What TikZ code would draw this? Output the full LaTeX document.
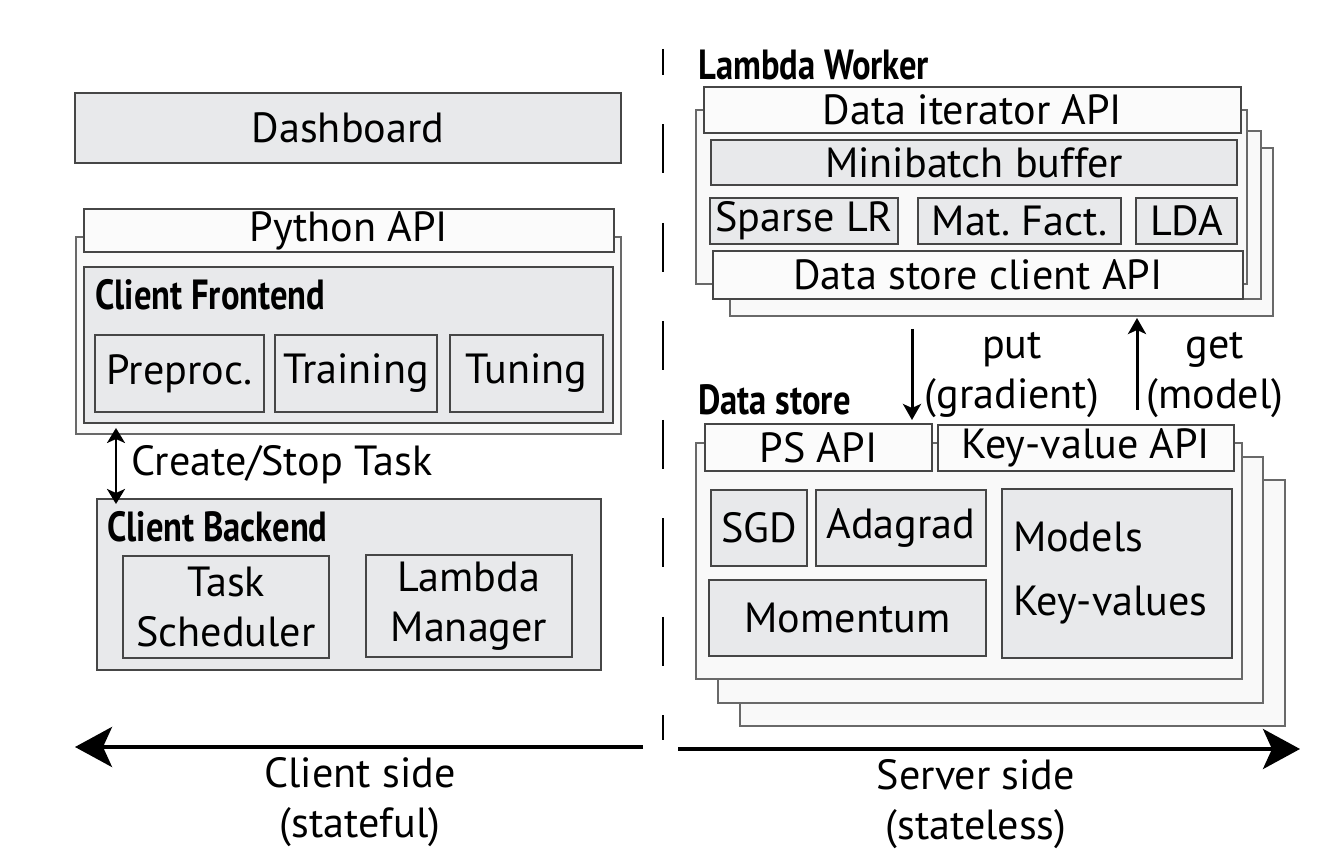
\documentclass[tikz,border=0pt]{standalone}
\usepackage{fontspec}
\setmainfont{PT Sans}
\newfontfamily\headfont{PT Sans}[FakeStretch=0.82]
\usepackage{tikz}
\usetikzlibrary{arrows.meta,positioning,calc}
\definecolor{boxgray}{RGB}{232,233,235}
\definecolor{framegray}{RGB}{249,249,249}
\definecolor{apiwhite}{RGB}{251,251,251}
\definecolor{edgegray}{RGB}{70,70,70}
\definecolor{framedge}{RGB}{105,105,105}
\newlength{\px}\setlength{\px}{0.02cm}

\tikzset{
  sz/.style 2 args={minimum width=#1*\px, minimum height=#2*\px},
  graybox/.style={draw=edgegray, line width=0.8pt, fill=boxgray, inner sep=0pt, outer sep=0pt, align=center},
  apibox/.style={graybox, fill=apiwhite},
  stackbox/.style={draw=framedge, line width=0.8pt, fill=framegray, inner sep=0pt, outer sep=0pt},
  headtxt/.style={anchor=base west, inner sep=0pt, font=\headfont\bfseries\fontsize{24}{28.45}\selectfont},
  thinarrow/.style={-{Stealth[length=0.32cm,width=0.36cm,inset=0.08cm]}, line width=1.7pt},
  dblarrow/.style={{Stealth[length=0.3cm,width=0.36cm,inset=0.08cm]}-{Stealth[length=0.3cm,width=0.36cm,inset=0.08cm]}, line width=1.7pt},
  sidearrow/.style={-{Stealth[length=0.74cm,width=0.8cm,inset=0.18cm]}, line width=2.2pt},
  sepline/.style={line width=1.1pt, dash pattern=on 0.98cm off 0.99cm, dash phase=0.46cm}
}

\begin{document}
\begin{tikzpicture}[x=0.02cm, y=-0.02cm, font=\fontsize{24}{28.45}\selectfont]
  \useasboundingbox (0,0) rectangle (1319,864);

  % client side
  \node[graybox, sz={546}{70}] (dash) at (348,128) {Dashboard};
  \node[stackbox, sz={545}{197}] (frontframe) at (348.5,335.5) {};
  \node[apibox, sz={530}{43}] (pyapi) at (349,230.5) {Python API};
  \node[graybox, sz={529}{156}] (frontend) at (348.5,345) {};
  \node[headtxt] (frontendtxt) at (95,310) {Client Frontend};
  \node[graybox, sz={169}{77}] (preproc) at (179.5,373.5) {Preproc.};
  \node[graybox, sz={162}{77}] (training) at (356,373.5) {Training};
  \node[graybox, sz={153}{77}] (tuning) at (526.5,373.5) {Tuning};

  \node[graybox, sz={504}{171}] (backend) at (349,584.5) {};
  \node[headtxt] (backendtxt) at (107,542) {Client Backend};
  \node[graybox, sz={206}{102}] (tasksched) at (226,607) {Task\\Scheduler};
  \node[graybox, sz={206}{102}] (lambdamgr) at (469,606) {Lambda\\Manager};

  \draw[dblarrow] ([xshift=40*\px, yshift=6*\px]frontframe.south west) -- ([xshift=19*\px, yshift=-5*\px]backend.north west);
  \node[anchor=west, inner sep=0pt] (createlbl) at (131,465) {Create/Stop Task};

  % lambda worker
  \node[headtxt] (workertxt) at (698,80) {Lambda Worker};
  \node[stackbox, sz={543}{168}] (lw3) at (1001.5,232) {};
  \node[stackbox, sz={547}{168}] (lw2) at (987.5,215) {};
  \node[stackbox, sz={551}{174}] (lw1) at (971.5,197) {};
  \node[apibox, sz={537}{46}] (dataiter) at (972.5,110) {Data iterator API};
  \node[graybox, sz={526}{45}] (minibatch) at (974,162.5) {Minibatch buffer};
  \node[graybox, sz={188}{46}] (sparselr) at (804,221) {Sparse LR};
  \node[graybox, sz={203}{46}] (matfact) at (1019.5,221) {Mat.\ Fact.};
  \node[graybox, sz={101}{46}] (lda) at (1186.5,221) {LDA};
  \node[apibox, sz={530}{48}] (dsclient) at (978,275) {Data store client API};

  % data store
  \node[headtxt] (storetxt) at (698,415) {Data store};
  \node[stackbox, sz={545}{246}] (ds3) at (1012.5,603) {};
  \node[stackbox, sz={545}{246}] (ds2) at (990.5,580) {};
  \node[stackbox, sz={546}{236}] (ds1) at (969,561) {};
  \node[apibox, sz={227}{47}] (psapi) at (818.5,447.5) {PS API};
  \node[apibox, sz={296}{46}] (kvapi) at (1086,448) {Key-value API};
  \node[graybox, sz={96}{76}] (sgd) at (759,528) {SGD};
  \node[graybox, sz={170}{76}] (adagrad) at (901,528) {Adagrad};
  \node[graybox, sz={277}{76}] (momentum) at (847.5,618) {Momentum};
  \node[graybox, sz={230}{169}, text width=208*\px, align=left] (models) at (1117,573.5) {Models\\[0.28cm]Key-values};

  % put / get
  \draw[thinarrow] ([xshift=182*\px, yshift=-13*\px]lw3.south west) -- ([xshift=207*\px, yshift=4*\px]psapi.north west);
  \draw[thinarrow] ([xshift=199*\px, yshift=15*\px]kvapi.north west) -- ([xshift=407*\px, yshift=-2*\px]lw3.south west);
  \node[align=center] (putlbl) at (1012,375) {put\\(gradient)};
  \node[align=center] (getlbl) at (1215,375) {get\\(model)};

  % sides
  \coordinate (septop) at (663,49);
  \coordinate (sepbot) at (663,740);
  \draw[sepline] (septop) -- (sepbot);
  \coordinate (lstart) at (643,747);
  \coordinate (ltip) at (75,747);
  \coordinate (rstart) at (678,749);
  \coordinate (rtip) at (1300,749);
  \draw[sidearrow] (lstart) -- (ltip);
  \draw[sidearrow] (rstart) -- (rtip);
  \node[align=center] (clientlbl) at (360,802) {Client side\\(stateful)};
  \node[align=center] (serverlbl) at (976,804) {Server side\\(stateless)};
\end{tikzpicture}
\end{document}
